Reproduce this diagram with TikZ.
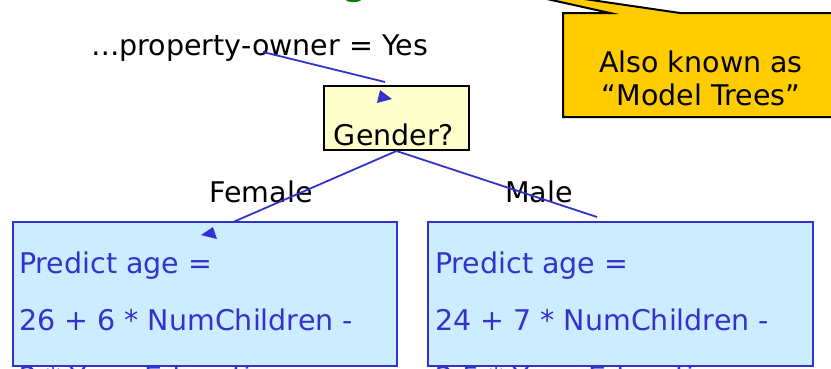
\documentclass[tikz,border=0pt]{standalone}
\usepackage{fontspec}
\setmainfont{DejaVu Sans}
\definecolor{lineblue}{RGB}{51,51,204}
\definecolor{boxblue}{RGB}{204,236,255}
\definecolor{paleyellow}{RGB}{255,255,204}
\definecolor{calloutgold}{RGB}{255,204,0}
\definecolor{titlegreen}{RGB}{0,128,0}
\tikzset{
  big/.style={font=\fontsize{28.5}{34}\selectfont, inner sep=0pt},
  label/.style={big, text=black},
  predtext/.style={big, text=lineblue, anchor=base west},
  leafbox/.style={draw=lineblue, line width=2pt, fill=boxblue},
  testbox/.style={draw=black, line width=2pt, fill=paleyellow},
  conn/.style={draw=lineblue, line width=1.8pt},
  tip/.style={fill=lineblue, draw=none},
}
\begin{document}
\begin{tikzpicture}[x=1pt,y=-1pt]
\useasboundingbox (0,0) rectangle (831,368);
\clip (0,0) rectangle (831,368);

% partial title glyph
\node[anchor=base, inner sep=0pt, text=titlegreen, font=\fontsize{44}{50}\selectfont] (titleg) at (355,-7) {g};

% callout
\path[fill=calloutgold, draw=black, line width=2pt]
  (563,13) -- (610,13) -- (475,-17) -- (680,13) -- (845,13) -- (845,117) -- (563,117) -- cycle;
\node[label, anchor=base] (also) at (701,72) {Also known as};
\node[label, anchor=base] (model) at (701,105) {“Model Trees”};

% labels
\node[label, anchor=base west] (prop) at (91,55) {…property-owner = Yes};
\node[label, anchor=base] (female) at (261,202) {Female};
\node[label, anchor=base] (male) at (539,202) {Male};

% gender test node
\node[testbox, minimum width=145pt, minimum height=64pt, inner sep=0pt, anchor=north west] (gender) at (323,85) {};
\node[label, anchor=base] (gtext) at (394,145) {Gender?};

% connector coordinates
\coordinate (pstart) at (263,52);
\coordinate (pend) at (385,82);
\coordinate (fend) at (201,236);
\coordinate (mend) at (597,217);
\draw[conn] (pstart) -- (pend);
\draw[conn] (gender.south) -- (fend);
\draw[conn] (gender.south) -- (mend);

% leaf boxes
\node[leafbox, minimum width=384pt, minimum height=144pt, inner sep=0pt, anchor=north west] (leftbox) at (12,221) {};
\node[leafbox, minimum width=385pt, minimum height=144pt, inner sep=0pt, anchor=north west] (rightbox) at (427,221) {};

\node[predtext] (l1) at (19,273) {Predict age =};
\node[predtext] (l2) at (19,330) {26 + 6 * NumChildren -};
\node[predtext] (l3) at (19,387) {2 * YearsEducation};
\node[predtext] (r1) at (435,273) {Predict age =};
\node[predtext] (r2) at (435,330) {24 + 7 * NumChildren -};
\node[predtext] (r3) at (435,387) {2.5 * YearsEducation};

% misplaced arrowheads
\path[tip] (392,99) -- (377,103) -- (380,90) -- cycle;
\path[tip] (201,235) -- (213,227) -- (217,239) -- cycle;
\end{tikzpicture}
\end{document}
